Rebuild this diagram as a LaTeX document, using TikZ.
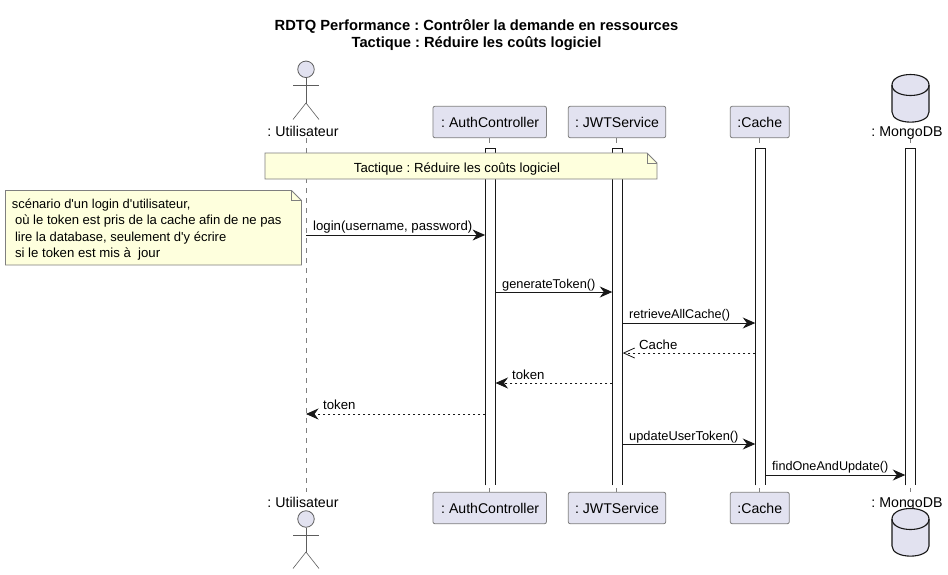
\documentclass[tikz,border=0pt]{standalone}
\usepackage{fontspec}
\setmainfont{Liberation Sans}[Ligatures=TeXOff]
\usetikzlibrary{arrows.meta}
\definecolor{partfill}{HTML}{E2E2F0}
\definecolor{partline}{HTML}{7F7F7F}
\definecolor{notefill}{HTML}{FEFFDD}
\definecolor{inkc}{HTML}{181818}
\frenchspacing
\tikzset{
  x=1pt,y=-1pt,
  part/.style={draw=partline,fill=partfill,line width=.8pt,rounded corners=2pt,minimum height=31.5pt,inner sep=0pt,font=\frenchspacing\fontsize{14.1}{16}\selectfont,text=black},
  plain/.style={inner sep=0pt,font=\frenchspacing\fontsize{14.2}{16}\selectfont,text=black},
  titletext/.style={inner sep=0pt,anchor=base,font=\frenchspacing\bfseries\fontsize{14.7}{16}\selectfont},
  activ/.style={draw=none,fill=white,minimum width=10pt,minimum height=337pt,inner sep=0pt,anchor=north},
  activline/.style={draw=inkc,line width=.8pt},
  lifel/.style={draw=partline,line width=.8pt,dash pattern=on 5pt off 5pt},
  msg/.style={inner sep=0pt,anchor=base west,font=\frenchspacing\fontsize{#1}{14}\selectfont,text=black},
  msg/.default=13.2,
  call/.style={draw=inkc,line width=1pt,-{Stealth[length=12.5pt,width=11pt,inset=4pt,fill=inkc]}},
  ret/.style={draw=inkc,line width=.8pt,dash pattern=on 2.5pt off 2.5pt,-{Stealth[length=12.5pt,width=11pt,inset=4pt,fill=inkc]}},
  retopen/.style={draw=inkc,line width=.8pt,dash pattern=on 2.5pt off 2.5pt,-{Straight Barb[length=11pt,width=10pt]}},
  notebox/.style={inner sep=0pt,outer sep=0pt,font=\frenchspacing\fontsize{#1}{14}\selectfont,text=black},
  notebox/.default=13.2,
  noteline/.style={draw=partline,fill=notefill,line width=.8pt},
  foldline/.style={draw=partline,line width=.8pt},
  stick/.style={draw=inkc!70,line width=.6pt},
  dbline/.style={draw=inkc,line width=1.1pt,fill=partfill},
}
\begin{document}
\begin{tikzpicture}
\useasboundingbox (0,0) rectangle (948,574);
\fill[white] (0,0) rectangle (948,574);
% title
\node[titletext] (t1) at (476.5,30) {RDTQ Performance : Contrôler la demande en ressources};
\node[titletext] (t2) at (476.5,47) {Tactique : Réduire les coûts logiciel};
% lifelines
\coordinate (uT) at (306,138); \coordinate (uB) at (306,492);
\coordinate (aT) at (489.5,138); \coordinate (aB) at (489.5,492);
\coordinate (jT) at (616.5,138); \coordinate (jB) at (616.5,492);
\coordinate (cT) at (759.5,138); \coordinate (cB) at (759.5,492);
\coordinate (mT) at (910,138); \coordinate (mB) at (910,492);
\draw[lifel] (uT) -- (uB);
\draw[lifel] (aT) -- (aB);
\draw[lifel] (jT) -- (jB);
\draw[lifel] (cT) -- (cB);
\draw[lifel] (mT) -- (mB);
% activations (open at the bottom)
\node[activ] (aA) at (490.3,148) {};
\node[activ] (aJ) at (617.5,148) {};
\node[activ] (aC) at (760.5,148) {};
\node[activ] (aM) at (910.5,148) {};
\draw[activline] (aA.south west) -- (aA.north west) -- (aA.north east) -- (aA.south east);
\draw[activline] (aJ.south west) -- (aJ.north west) -- (aJ.north east) -- (aJ.south east);
\draw[activline] (aC.south west) -- (aC.north west) -- (aC.north east) -- (aC.south east);
\draw[activline] (aM.south west) -- (aM.north west) -- (aM.north east) -- (aM.south east);
% participants top
\node[part,minimum width=113.5pt] (pa) at (489.7,122) {\hspace{1pt}: AuthController};
\node[part,minimum width=97.5pt] (pj) at (617,122) {: JWTService};
\node[part,minimum width=59pt] (pc) at (759.8,122) {:Cache};
% participants bottom
\node[part,minimum width=113.5pt] (qa) at (489.7,508) {\hspace{1pt}: AuthController};
\node[part,minimum width=97.5pt] (qj) at (617,508) {: JWTService};
\node[part,minimum width=59pt] (qc) at (759.8,508) {:Cache};
% actor top
\node[draw=inkc!70,fill=partfill,circle,minimum size=16.5pt,inner sep=0pt,line width=.8pt] (h1) at (306,69.3) {};
\draw[stick] (h1.south) -- (306,103) coordinate (w1);
\draw[stick] (293,85) -- (319,85);
\draw[stick] (293,119.5) -- (w1) -- (319,119.5);
\node[plain,anchor=base] (lu1) at (303,136) {: Utilisateur};
% actor bottom
\node[plain,anchor=base] (lu2) at (303,507) {: Utilisateur};
\node[draw=inkc!70,fill=partfill,circle,minimum size=16.5pt,inner sep=0pt,line width=.8pt] (h2) at (306,519) {};
\draw[stick] (h2.south) -- (306,552) coordinate (w2);
\draw[stick] (293,535) -- (319,535);
\draw[stick] (293,568.5) -- (w2) -- (319,568.5);
% database top
\draw[dbline] (892,85) .. controls (892,71) and (929,71) .. (929,85) -- (929,112) .. controls (929,125.5) and (892,125.5) .. (892,112) -- cycle;
\draw[dbline,fill=none] (892,85) .. controls (892,99) and (929,99) .. (929,85);
\node[plain,anchor=base] (lm1) at (907,136) {: MongoDB};
% database bottom
\node[plain,anchor=base] (lm2) at (907,507) {: MongoDB};
\draw[dbline] (892,519) .. controls (892,505) and (929,505) .. (929,519) -- (929,546) .. controls (929,559.5) and (892,559.5) .. (892,546) -- cycle;
\draw[dbline,fill=none] (892,519) .. controls (892,533) and (929,533) .. (929,519);
% top note
\draw[noteline] (265,153) -- (647,153) -- (657,163) -- (657,179) -- (265,179) -- cycle;
\draw[foldline] (647,153) -- (647,163) -- (657,163);
\node[notebox,anchor=base] (n1) at (457,172) {Tactique : Réduire les coûts logiciel};
% left note
\draw[noteline] (5.5,190.5) -- (291.5,190.5) -- (301.5,200.5) -- (301.5,265) -- (5.5,265) -- cycle;
\draw[foldline] (291.5,190.5) -- (291.5,200.5) -- (301.5,200.5);
\node[notebox=12.9,anchor=base west] (n2a) at (12,208) {scénario d'un login d'utilisateur,};
\node[notebox=13.1,anchor=base west] (n2b) at (15,224) {où le token est pris de la cache afin de ne pas};
\node[notebox=13,anchor=base west] (n2c) at (15,241) {lire la database, seulement d'y écrire};
\node[notebox,anchor=base west] (n2d) at (15,257) {si le token est mis à\ \ jour};
% messages
\draw[call] (uT |- 0,235) -- (aA.west |- 0,235);
\node[msg] (m1) at (313,230) {login(username, password)};
\draw[call] (aA.east |- 0,292) -- (aJ.west |- 0,292);
\node[msg=12.8] (m2) at (502,288) {generateToken()};
\draw[call] (aJ.east |- 0,323) -- (aC.west |- 0,323);
\node[msg=12.6] (m3) at (629,318) {retrieveAllCache()};
\draw[retopen] (aC.west |- 0,353) -- (aJ.east |- 0,353);
\node[msg] (m4) at (639,349) {Cache};
\draw[ret] (aJ.west |- 0,383) -- (aA.east |- 0,383);
\node[msg] (m5) at (512,379) {token};
\draw[ret] (aA.west |- 0,414) -- (uT |- 0,414);
\node[msg] (m6) at (323,409) {token};
\draw[call] (aJ.east |- 0,444) -- (aC.west |- 0,444);
\node[msg=12.85] (m7) at (629,440) {updateUserToken()};
\draw[call] (aC.east |- 0,475) -- (aM.west |- 0,475);
\node[msg=12.65] (m8) at (772,470) {findOneAndUpdate()};
\end{tikzpicture}
\end{document}
